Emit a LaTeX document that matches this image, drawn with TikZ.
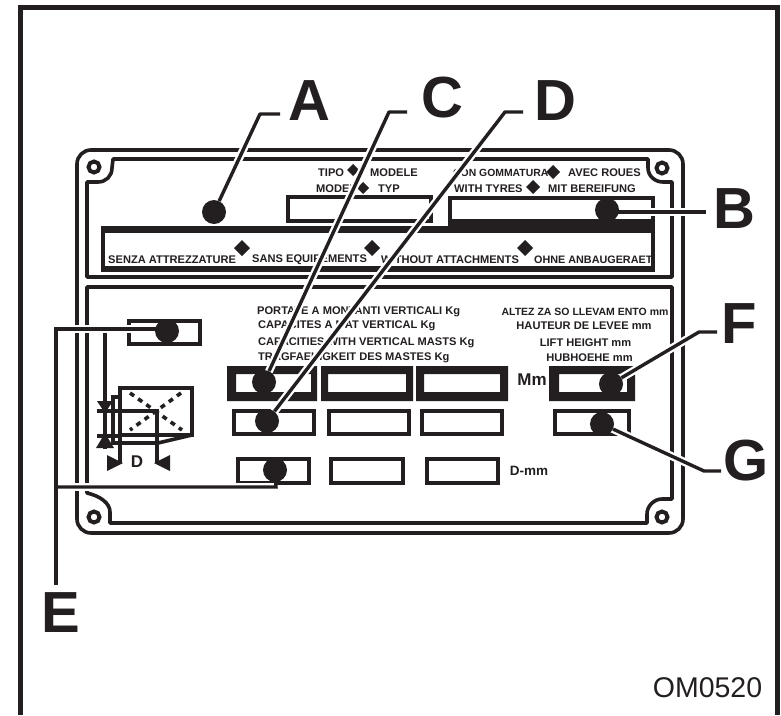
\documentclass[tikz,border=0pt]{standalone}
\usepackage{fontspec}
\setmainfont{Liberation Sans}
\usetikzlibrary{calc}
\definecolor{ink}{HTML}{231F20}
\tikzset{
 frameline/.style={draw=ink,line width=5pt},
 plate/.style={draw=ink,line width=3.6pt},
 thin box/.style={draw=ink,line width=4pt},
 leader/.style={draw=ink,line width=3.4pt},
 halo/.style={draw=white,line width=8pt},
 picto/.style={draw=ink,line width=3.6pt},
 dot/.style={circle,fill=ink,inner sep=0pt,minimum size=24pt},
 letter/.style={font=\bfseries\fontsize{58}{58}\selectfont,text=ink,inner sep=0pt},
 small/.style={font=\bfseries\fontsize{11.1}{12}\selectfont,text=ink,inner sep=0pt},
}
\newcommand{\dmd}[3]{\fill[ink] (#1-#3,#2)--(#1,#2-#3)--(#1+#3,#2)--(#1,#2+#3)--cycle;}
\newcommand{\hole}[2]{\draw[ink,line width=4pt,fill=white] (#1,#2) circle (5.5pt);}
\newcommand{\thickbox}[4]{\fill[ink,even odd rule] (#1,366) rectangle (#4,401) (#2,374) rectangle (#3,392);}
\begin{document}
\begin{tikzpicture}[x=1pt,y=-1pt]
\useasboundingbox[fill=white] (0,0) rectangle (781,715);
% outer frame
\draw[frameline] (20.5,715) -- (20.5,7.5) -- (777.5,7.5) -- (777.5,715);
% plate outline
\draw[plate] (91,150) -- (669,150) arc (-90:0:14) -- (683,519) arc (0:90:14) -- (91,533) arc (90:180:14) -- (77,164) arc (180:270:14) -- cycle;
% upper panel
\draw[plate,line join=round] (113,159) -- (648,159) -- (648,168) .. controls (648,176) and (655,182) .. (663,182) -- (672,182) -- (672,277) -- (87,277) -- (87,182) -- (98,182) .. controls (106,182) and (112,176) .. (112,168) -- cycle;
% lower panel
\draw[plate,line join=round] (87,287) -- (672,287) -- (672,499) -- (662,499) .. controls (654,499) and (647,506) .. (647,514) -- (647,523) -- (110,523) -- (110,512) .. controls (110,503) and (100,496) .. (87,493) -- cycle;
\hole{94}{167}\hole{662}{168}\hole{94}{517}\hole{662}{517}
% upper boxes
\draw[thin box] (288,197) rectangle (431,221);
\draw[ink,line width=4pt] (450,198) rectangle (653,224);
\fill[ink] (448,219) rectangle (655,232);
\draw[ink,line width=4pt] (103,230) rectangle (653,269);
\fill[ink] (101,226) rectangle (655,232.5);
\fill[ink] (101,266) rectangle (655,272);
% upper text
\node[small,anchor=west] (t1) at (318,173) {TIPO};
\node[small,anchor=west] (t2) at (370,173) {MODELE};
\node[small,anchor=west] (t3) at (316,189) {MODEL};
\node[small,anchor=west] (t4) at (378,189) {TYP};
\node[small,anchor=west,font=\bfseries\fontsize{10.4}{12}\selectfont] (t5) at (453,173) {CON GOMMATURA};
\node[small,anchor=west] (t6) at (568,173) {AVEC ROUES};
\node[small,anchor=west] (t7) at (454,189) {WITH TYRES};
\node[small,anchor=west] (t8) at (548,189) {MIT BEREIFUNG};
\node[small,anchor=west] (t9) at (108,259.5) {SENZA ATTREZZATURE};
\node[small,anchor=west] (t10) at (252,259.5) {SANS EQUIPEMENTS};
\node[small,anchor=west] (t11) at (381,259.5) {WITHOUT ATTACHMENTS};
\node[small,anchor=west,font=\bfseries\fontsize{10.8}{12}\selectfont] (t12) at (534,259.5) {OHNE ANBAUGERAET};
\dmd{353}{170}{6}\dmd{363}{188}{6}\dmd{553}{172}{7}\dmd{533}{187}{7}\dmd{242}{248}{8}\dmd{372}{248}{8}\dmd{525}{248}{8}
% lower text
\node[small,anchor=west] (t13) at (257,312) {PORTATE A MONTANTI VERTICALI Kg};
\node[small,anchor=west] (t14) at (258,326) {CAPACITES A MAT VERTICAL Kg};
\node[small,anchor=west] (t15) at (258,343) {CAPACITIES WITH VERTICAL MASTS Kg};
\node[small,anchor=west] (t16) at (258,358) {TRAGFAEHIGKEIT DES MASTES Kg};
\node[small,font=\bfseries\fontsize{10.5}{12}\selectfont] (t17) at (585,312) {ALTEZ ZA SO LLEVAM ENTO mm};
\node[small] (t18) at (584,326) {HAUTEUR DE LEVEE mm};
\node[small] (t19) at (585.5,343) {LIFT HEIGHT mm};
\node[small] (t20) at (589.5,358) {HUBHOEHE mm};
% capacity boxes
\thickbox{227}{236}{311}{317}
\thickbox{321}{328}{406}{413}
\thickbox{416}{424}{500}{508}
\thickbox{549}{559}{627}{635}
\draw[thin box] (234,411) rectangle (314,434);
\draw[thin box] (329,411) rectangle (409,434);
\draw[thin box] (422,411) rectangle (502,434);
\draw[thin box] (555,411) rectangle (629,434);
\draw[thin box] (238,459) rectangle (309,483);
\draw[thin box] (331,459) rectangle (403,483);
\draw[thin box] (427,459) rectangle (498,483);
\draw[thin box] (129,321) rectangle (200,344);
% tiny labels
\node[font=\bfseries\fontsize{17}{17}\selectfont,text=ink,inner sep=0pt] (mm) at (532,380) {Mm};
\node[font=\bfseries\fontsize{13.5}{13.5}\selectfont,text=ink,inner sep=0pt] (dmm) at (529,471) {D-mm};
% pictogram
\draw[picto] (120,388) rectangle (192,435);
\draw[picto] (120,397) -- (113,397) -- (113,443) -- (158,443) -- (192,435);
\draw[picto,dash pattern=on 5pt off 5pt] (130,393) -- (182,430) (181,393) -- (130,430);
\draw[picto] (97,411) -- (157,411) -- (157,463);
\draw[picto] (97,436) -- (120,436);
\draw[picto] (120,397) -- (120,463);
\draw[picto] (105,329) -- (105,449);
\fill[ink] (97,401)--(113,401)--(105,413)--cycle;
\fill[ink] (96,448)--(114,448)--(105,433)--cycle;
\fill[ink] (107,455)--(107,471)--(123,463)--cycle;
\fill[ink] (170,455)--(170,471)--(154,463)--cycle;
\node[font=\bfseries\fontsize{17}{17}\selectfont,text=ink,inner sep=0pt] (dlab) at (137,462) {D};
% letters
\node[letter] (lA) at (309,101) {A};
\node[letter] (lB) at (734,209) {B};
\node[letter] (lC) at (442,97.5) {C};
\node[letter] (lD) at (555.5,100.5) {D};
\node[letter] (lE) at (61,613) {E};
\node[letter] (lF) at (739.5,324) {F};
\node[letter] (lG) at (746,461) {G};
\node[font=\fontsize{28.5}{29}\selectfont,text=ink,inner sep=0pt] (om) at (707.5,687.5) {OM0520};
% leader geometry
\coordinate (eA) at (280,114); \coordinate (kA) at (260,114);
\coordinate (eC) at (407,112); \coordinate (kC) at (389,112);
\coordinate (eD) at (523,112); \coordinate (kD) at (505,112);
\coordinate (eB) at (706,212);
\coordinate (eF) at (717,332); \coordinate (kF) at (699,332);
\coordinate (eG) at (721,471); \coordinate (kG) at (704,471);
\coordinate (eE) at (56,585); \coordinate (kE1) at (56,329); \coordinate (kE2) at (56,487); \coordinate (kE3) at (276,487);
\coordinate (pA) at (214,212);
\coordinate (pB) at (607,212);
\coordinate (pC) at (264,382);
\coordinate (pD) at (267,421);
\coordinate (pE1) at (167,329);
\coordinate (pF) at (611,384);
\coordinate (pG) at (602,424);
% halos
\draw[halo] (kA) -- (pA);
\draw[halo] (kC) -- (pC);
\draw[halo] (kD) -- (pD);
\draw[halo] ($(pB)+(30,0)$) -- (eB);
\draw[halo] (kF) -- (pF);
\draw[halo] (kG) -- (pG);
\draw[halo] (kE1) -- (pE1);
\draw[halo] (kE2) -- (kE3);
% dots and leaders
\node[dot] (dA) at (214,212) {};
\node[dot] (dB) at (607,210) {};
\node[dot] (dC) at (264,382) {};
\node[dot] (dD) at (267,421) {};
\node[dot] (dE1) at (167,331) {};
\node[dot] (dE2) at (275,470) {};
\node[dot] (dF) at (611,384) {};
\node[dot] (dG) at (602,424) {};
\draw[leader,line join=round] (eA) -- (kA) -- (dA);
\draw[leader] (dB.center |- eB) -- (eB);
\draw[leader,line join=round] (eC) -- (kC) -- (dC);
\draw[leader,line join=round] (eD) -- (kD) -- (dD);
\draw[leader,line join=round] (eF) -- (kF) -- (dF);
\draw[leader,line join=round] (eG) -- (kG) -- (dG);
\draw[leader] (pE1) -- (kE1) -- (eE);
\draw[leader] (dE2) -- (kE3) -- (kE2);
\end{tikzpicture}
\end{document}
